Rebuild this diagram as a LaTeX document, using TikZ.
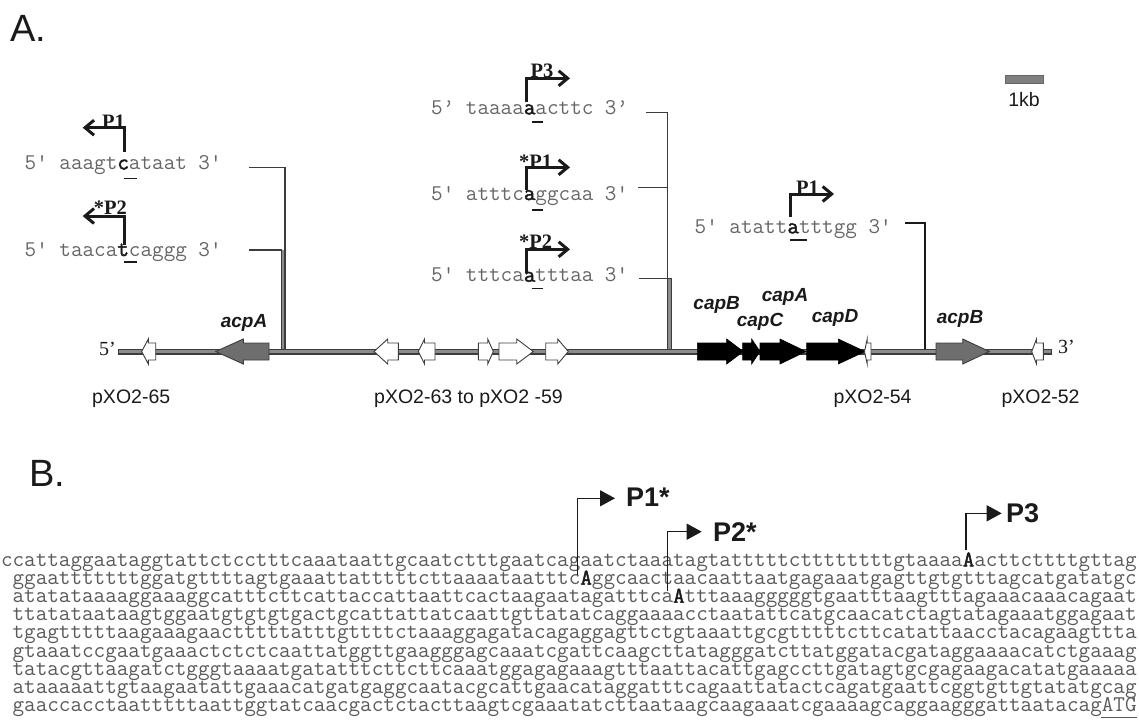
\documentclass[tikz,border=0pt]{standalone}
\usepackage{fontspec}
\setmainfont{Liberation Serif}
\newfontfamily\labsans{Liberation Sans}
\setmonofont{Latin Modern Mono}
\newfontfamily\seqbold{Latin Modern Mono}[FakeBold=2]
\usetikzlibrary{arrows.meta}

\definecolor{seqgray}{HTML}{5A5A5A}
\definecolor{seqlight}{HTML}{666666}
\definecolor{ink}{HTML}{1A1A1A}
\definecolor{mapdark}{HTML}{3C3C3C}
\definecolor{mapmid}{HTML}{8C8C8C}
\definecolor{genegray}{HTML}{6E6E6E}
\definecolor{barg}{HTML}{7F7F7F}

% bold, black start base inside a gray sequence
\newcommand\startbase[1]{{\color{ink}\seqbold #1}}
% gene arrow: tail x, head-base x, tip x, style
\newcommand\genearrow[4]{%
  \draw[#4] (#1,343) -- (#2,343) -- (#2,339) -- (#3,351.5) -- (#2,364)
    -- (#2,360) -- (#1,360) -- cycle;}

\tikzset{
  seq/.style={inner sep=0pt, font=\fontsize{22.5}{18}\selectfont\ttfamily, text=seqgray},
  seqtop/.style={seq, text=seqlight},
  lbl/.style={inner sep=0pt, font=\fontsize{20.5}{22}\selectfont\bfseries, text=ink},
  gname/.style={inner sep=0pt, font=\labsans\fontsize{19}{20}\selectfont\bfseries\itshape, text=ink},
  locus/.style={inner sep=0pt, font=\labsans\fontsize{19.5}{20}\selectfont, text=ink},
  panel/.style={inner sep=0pt, font=\labsans\fontsize{38}{40}\selectfont, text=ink},
  pname/.style={inner sep=0pt, font=\labsans\fontsize{27}{28}\selectfont\bfseries, text=ink},
  tssA/.style={line width=3pt, ink, -{Straight Barb[length=9pt,width=15pt]}},
  tssB/.style={line width=1.4pt, ink, -{Triangle[length=15pt,width=16pt]}},
  conn/.style={line width=1.4pt, mapdark},
  wgene/.style={fill=white, draw=mapdark, line width=0.9pt},
  bgene/.style={fill=black, draw=black, line width=0.6pt},
  ggene/.style={fill=genegray, draw=mapdark, line width=0.9pt},
}

\begin{document}
\begin{tikzpicture}[x=1pt,y=-1pt]
\useasboundingbox (0,0) rectangle (1139,723);
\clip (0,0) rectangle (1139,723);

% ---------------- panel A ----------------
\node[panel, anchor=base west] (pa) at (10,41.7) {A.};

% scale bar
\node[draw=barg!80!black, fill=barg, line width=0.5pt, minimum width=38.3pt,
      minimum height=7.7pt, inner sep=0pt] (bar) at (1024.2,78.9) {};
\node[locus, anchor=base] (kb) at (1024,106) {1kb};

% start-site sequences
\node[seqtop, anchor=base west] (sL1) at (24.5,169.5) {5' aaagt\startbase{c}ataat 3'};
\node[seqtop, anchor=base west] (sL2) at (24.5,256) {5' taaca\startbase{t}caggg 3'};
\node[seqtop, anchor=base west] (sM1) at (431,114.3) {5’ taaaa\startbase{a}acttc 3’};
\node[seqtop, anchor=base west] (sM2) at (431,200) {5' atttc\startbase{a}ggcaa 3'};
\node[seqtop, anchor=base west] (sM3) at (431,281.7) {5' tttca\startbase{a}tttaa 3'};
\node[seqtop, anchor=base west] (sR1) at (694.5,233.3) {5' atatt\startbase{a}tttgg 3'};

% underlined start bases
\draw[ink, line width=1.6pt] (124.3,178.3) -- (136.7,178.3);
\draw[ink, line width=1.6pt] (124.3,261.7) -- (136.7,261.7);
\draw[ink, line width=1.6pt] (531.7,121.7) -- (543.3,121.7);
\draw[ink, line width=1.6pt] (531.7,210) -- (543.3,210);
\draw[ink, line width=1.6pt] (531.7,288.3) -- (543.3,288.3);
\draw[ink, line width=1.6pt] (790,240) -- (806.7,240);

% transcription start arrows
\draw[tssA] (124.3,151.7) -- (124.3,127.7) -- (82.7,127.7);
\draw[tssA] (124.3,245) -- (124.3,216) -- (82.7,216);
\draw[tssA] (526.7,101.7) -- (526.7,78.3) -- (570,78.3);
\draw[tssA] (526.7,190) -- (526.7,167.3) -- (570,167.3);
\draw[tssA] (526.7,273.3) -- (526.7,249.3) -- (570,249.3);
\draw[tssA] (790.7,216.7) -- (790.7,194) -- (834,194);

\node[lbl, anchor=base east] (lP1) at (125,128) {P1};
\node[lbl, anchor=base east] (lP2) at (127,214.5) {*P2};
\node[lbl, anchor=base west] (mP3) at (530.5,77) {P3};
\node[lbl, anchor=base west] (mP1) at (519,168.5) {*P1};
\node[lbl, anchor=base west] (mP2) at (519,248) {*P2};
\node[lbl, anchor=base west] (rP1) at (796,194) {P1};

% connectors from the sequences down to the map
\coordinate (cL1) at (249.3,167.7);
\coordinate (cL2) at (249.3,250);
\coordinate (jL1) at (285,351.5);
\coordinate (jL2) at (281.5,351.5);
\coordinate (cM1) at (646,112.7);
\coordinate (cM2) at (638.3,187.7);
\coordinate (kM2) at (667.3,187.7);
\coordinate (cM3) at (639.3,278.3);
\coordinate (jM1) at (667.3,351.5);
\coordinate (jM3) at (671.7,351.5);
\coordinate (cR)  at (905,222.7);
\coordinate (jR)  at (925,351.5);

\fill[mapmid] (281.5,250) rectangle (285,351.5);
\fill[mapmid] (667.3,278.3) rectangle (671.7,351.5);
\draw[conn] (cL1) -| (jL1);
\draw[conn] (cL2) -| (jL2);
\draw[conn] (cM1) -| (jM1);
\draw[conn] (cM2) -- (kM2);
\draw[conn] (cM3) -| (jM3);
\draw[line width=1.8pt, ink] (cR) -| (jR);

% plasmid map
\coordinate (m5) at (118,351.5);
\coordinate (m3) at (1052,351.5);
\draw[line width=6pt, mapdark] (m5) -- (m3);
\draw[line width=3pt, mapmid] ([xshift=0.8pt]m5) -- ([xshift=-0.8pt]m3);
\node[inner sep=0pt, font=\fontsize{20}{20}\selectfont, anchor=base east, text=ink] (five) at (116,355) {5’};
\node[inner sep=0pt, font=\fontsize{20}{20}\selectfont, anchor=base west, text=ink] (three) at (1058,353) {3’};

\genearrow{155.7}{148.3}{141.7}{wgene}
\genearrow{269}{243.3}{215.7}{ggene}
\genearrow{398.3}{387.7}{374}{wgene}
\genearrow{435}{424.5}{418.3}{wgene}
\genearrow{478.3}{487.7}{493.3}{wgene}
\genearrow{499}{516.7}{533.3}{wgene}
\genearrow{545.7}{557.7}{568.3}{wgene}
\genearrow{697.3}{726.7}{743.3}{bgene}
\genearrow{742.7}{751.7}{760}{bgene}
\genearrow{760}{780}{806}{bgene}
\genearrow{806.7}{838.3}{865}{bgene}
\genearrow{871}{867.2}{864.5}{wgene}
\genearrow{936}{962.7}{989.3}{ggene}
\genearrow{1043.3}{1036.5}{1031.7}{wgene}

\node[gname, anchor=base] (nacpA) at (244,327) {acpA};
\node[gname, anchor=base] (ncapB) at (716.7,309) {capB};
\node[gname, anchor=base] (ncapA) at (785,301) {capA};
\node[gname, anchor=base] (ncapC) at (760,326) {capC};
\node[gname, anchor=base] (ncapD) at (835,322.5) {capD};
\node[gname, anchor=base] (nacpB) at (960,323) {acpB};

\node[locus, anchor=base east] (l65) at (170.4,403) {pXO2-65};
\node[locus, anchor=base west] (l63) at (374,403) {pXO2-63 to pXO2 -59};
\node[locus, anchor=base west] (l54) at (833.3,403) {pXO2-54};
\node[locus, anchor=base west] (l52) at (1001.3,403) {pXO2-52};

% ---------------- panel B ----------------
\node[panel, anchor=base west] (pb) at (29,486.5) {B.};

\node[seq, anchor=base east] (b1) at (1136.8,566.5)
  {ccattaggaataggtattctcctttcaaataattgcaatctttgaatcagaatctaaatagtatttttcttttttttgtaaaa\startbase{A}acttcttttgttag};
\node[seq, anchor=base east] (b2) at (1136.8,584.6)
  {ggaatttttttggatgttttagtgaaattatttttcttaaaataatttc\startbase{A}ggcaactaacaattaatgagaaatgagttgtgtttagcatgatatgc};
\node[seq, anchor=base east] (b3) at (1136.8,602.7)
  {atatataaaaggaaaggcatttcttcattaccattaattcactaagaatagatttca\startbase{A}tttaaagggggtgaatttaagtttagaaacaaacagaat};
\node[seq, anchor=base east] (b4) at (1136.8,620.8)
  {ttatataataagtggaatgtgtgtgactgcattattatcaattgttatatcaggaaaacctaatattcatgcaacatctagtatagaaatggagaat};
\node[seq, anchor=base east] (b5) at (1136.8,638.9)
  {tgagtttttaagaaagaactttttatttgttttctaaaggagatacagaggagttctgtaaattgcgtttttcttcatattaacctacagaagttta};
\node[seq, anchor=base east] (b6) at (1136.8,657.0)
  {gtaaatccgaatgaaactctctcaattatggttgaagggagcaaatcgattcaagcttatagggatcttatggatacgataggaaaacatctgaaag};
\node[seq, anchor=base east] (b7) at (1136.8,675.1)
  {tatacgttaagatctgggtaaaatgatatttcttcttcaaatggagagaaagtttaattacattgagccttgatagtgcgagaagacatatgaaaaa};
\node[seq, anchor=base east] (b8) at (1136.8,693.2)
  {ataaaaattgtaagaatattgaaacatgatgaggcaatacgcattgaacataggatttcagaattatactcagatgaattcggtgttgtatatgcag};
\node[seq, anchor=base east] (b9) at (1136.8,711.3)
  {gaaccacctaatttttaattggtatcaacgactctacttaagtcgaaatatcttaataagcaagaaatcgaaaagcaggaagggattaatacagATG};
\draw[seqgray, line width=1pt] (1101.4,717.5) -- (1136.8,717.5);

% start sites in panel B
\draw[tssB] (577.3,575) -- (577.3,498.3) -- (615,498.3);
\draw[tssB] (667.7,591) -- (667.7,531.7) -- (701.7,531.7);
\draw[tssB] (966,550) -- (966,513.3) -- (1001.7,513.3);
\node[pname, anchor=base west] (bP1) at (626,506.7) {P1*};
\node[pname, anchor=base west] (bP2) at (713,541.7) {P2*};
\node[pname, anchor=base west] (bP3) at (1006,522.7) {P3};
\end{tikzpicture}
\end{document}
